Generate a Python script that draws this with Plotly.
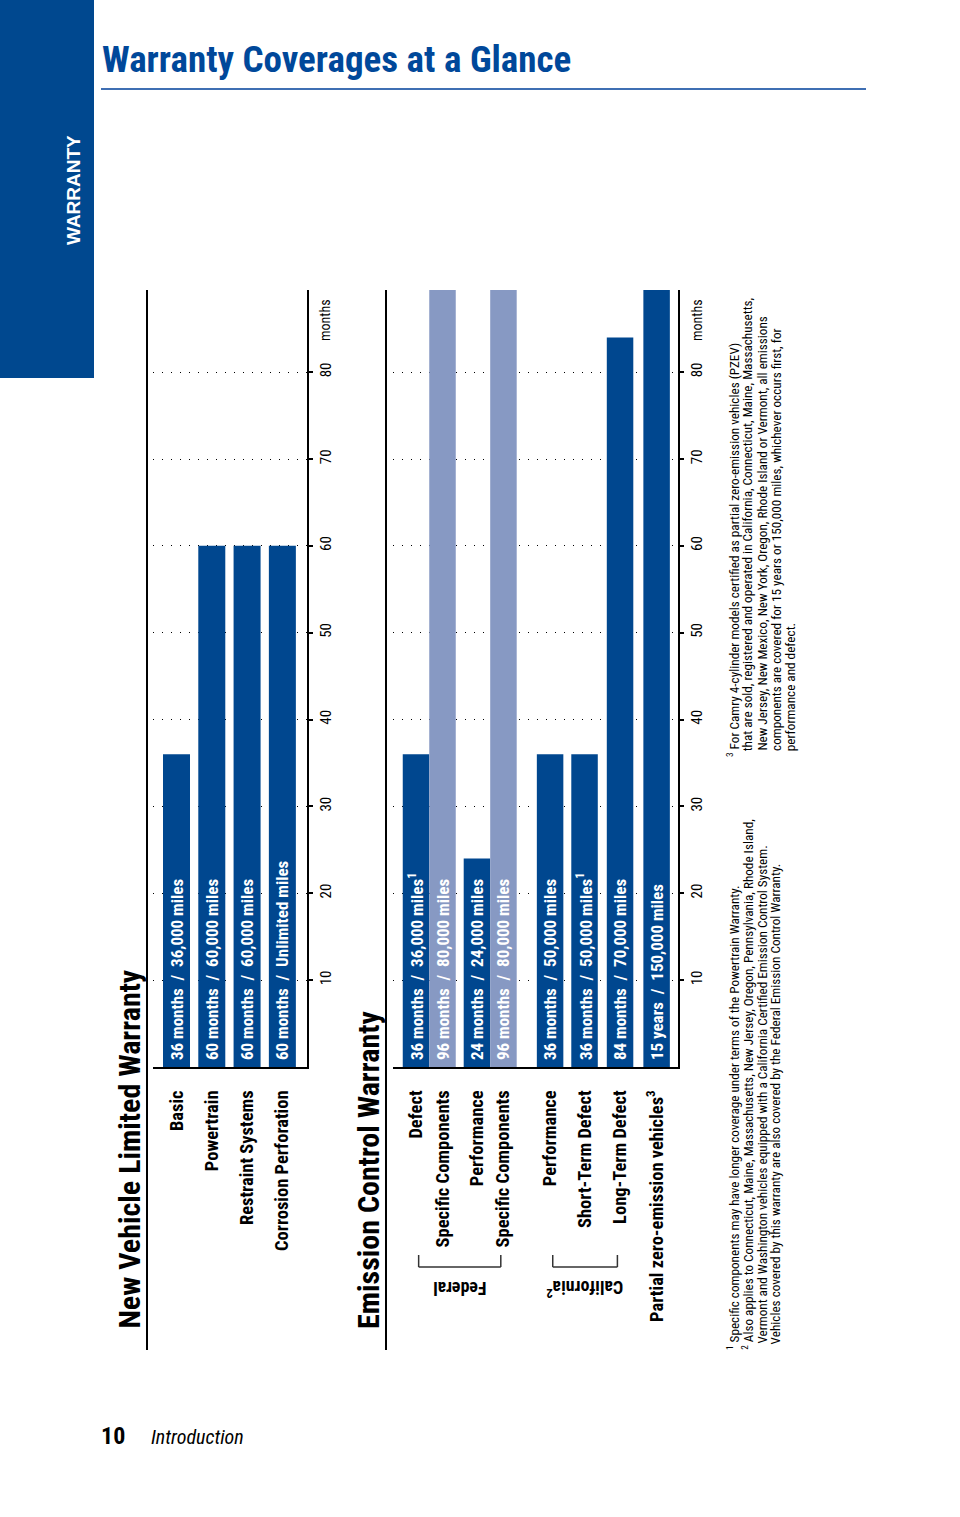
import plotly.graph_objects as go

W, H = 960, 1517

# ---------------- data ----------------
nv_categories = ["Basic", "Powertrain", "Restraint Systems", "Corrosion Perforation"]
nv_months = [36, 60, 60, 60]
nv_labels = ["36 months / 36,000 miles", "60 months / 60,000 miles",
             "60 months / 60,000 miles", "60 months / Unlimited miles"]

ec_categories = ["Defect", "Specific Components", "Performance", "Specific Components",
                 "Performance", "Short-Term Defect", "Long-Term Defect",
                 "Partial zero-emission vehicles<sup>3</sup>"]
ec_months = [36, 96, 24, 96, 36, 36, 84, 180]
ec_labels = ["36 months / 36,000 miles<sup>1</sup>", "96 months / 80,000 miles",
             "24 months / 24,000 miles", "96 months / 80,000 miles",
             "36 months / 50,000 miles", "36 months / 50,000 miles<sup>1</sup>",
             "84 months / 70,000 miles", "15 years / 150,000 miles"]
ec_kind = ["main", "components", "main", "components", "main", "main", "main", "main"]
ec_section = ["Federal", "Federal", "Federal", "Federal",
              "California<sup>2</sup>", "California<sup>2</sup>", "California<sup>2</sup>", "PZEV"]

month_ticks = [10, 20, 30, 40, 50, 60, 70, 80]
month_ticktext = ["10", "20", "30", "40", "50", "60", "70", "80"]

footnotes_a = [
    "<sup>1</sup> Specific components may have longer coverage under terms of the Powertrain Warranty.",
    "<sup>2</sup> Also applies to Connecticut, Maine, Massachusetts, New Jersey, Oregon, Pennsylvania, Rhode Island,",
    "Vermont and Washington vehicles equipped with a California Certified Emission Control System.",
    "Vehicles covered by this warranty are also covered by the Federal Emission Control Warranty.",
]
footnotes_b = [
    "<sup>3</sup> For Camry 4-cylinder models certified as partial zero-emission vehicles (PZEV)",
    "that are sold, registered and operated in California, Connecticut, Maine, Massachusetts,",
    "New Jersey, New Mexico, New York, Oregon, Rhode Island or Vermont, all emissions",
    "components are covered for 15 years or 150,000 miles, whichever occurs first, for",
    "performance and defect.",
]

# ---------------- styling / layout constants ----------------
DARK = "#00478f"
LIGHT = "#8799c3"
NARROW = "Roboto Condensed, Open Sans, sans-serif"
SANS = "Liberation Sans, Arial, sans-serif"
colors = {"main": DARK, "components": LIGHT}

# gap (in bar widths) placed before each emission bar
ec_gap_before = [0, 0, 0.3, 0, 0.76, 0.3, 0.34, 0.38]
ec_pos = []
p = 0.0
for i, g in enumerate(ec_gap_before):
    p = 0.0 if i == 0 else p + 1 + g
    ec_pos.append(p)


def px(x):
    return x / W


def py(y):
    return 1 - y / H


def nb(s):
    return s.replace(" / ", "\u00a0\u00a0/\u00a0\u00a0")


fig = go.Figure()

BARFONT = dict(family=NARROW, size=17, color="white", weight="bold")

fig.add_trace(go.Bar(
    x=nv_categories, y=nv_months, text=["\u00a0" + nb(t) for t in nv_labels],
    marker=dict(color=DARK, line=dict(width=0)),
    textposition="inside", insidetextanchor="start", textangle=-90,
    constraintext="none", cliponaxis=True, textfont=BARFONT,
    xaxis="x", yaxis="y", showlegend=False, hoverinfo="skip"))

fig.add_trace(go.Bar(
    x=ec_pos, y=ec_months, width=[1.0] * len(ec_pos),
    text=["\u00a0" + nb(t) for t in ec_labels],
    marker=dict(color=[colors[k] for k in ec_kind], line=dict(width=0)),
    textposition="inside", insidetextanchor="start", textangle=-90,
    constraintext="none", cliponaxis=True, textfont=BARFONT,
    xaxis="x2", yaxis="y2", showlegend=False, hoverinfo="skip"))

ytop, ybase = 290, 1067
yrange = [0, (ybase - ytop) / ((980 - 372) / 70)]

common_y = dict(
    domain=[py(ybase), py(ytop)], range=yrange, side="right",
    tickvals=month_ticks, ticktext=month_ticktext, tickangle=-90,
    showline=True, linecolor="black", linewidth=2,
    ticks="outside", ticklen=4, tickwidth=2, tickcolor="black",
    showgrid=True, gridcolor="black", gridwidth=1.2, griddash="1px,8px",
    zeroline=False, tickfont=dict(family=NARROW, size=15, color="black"),
    fixedrange=True)

common_x = dict(
    showline=True, linecolor="black", linewidth=2, ticks="", showgrid=False,
    zeroline=False, tickangle=-90, ticklabelstandoff=14,
    tickfont=dict(family=NARROW, size=18.5, color="black", weight="bold"),
    fixedrange=True)

fig.update_layout(
    width=W, height=H, margin=dict(l=0, r=0, t=0, b=0),
    paper_bgcolor="white", plot_bgcolor="white",
    bargap=0.235,
    xaxis=dict(domain=[px(153), px(307)], anchor="y", type="category",
               range=[-0.666, 3.698], **common_x),
    yaxis=dict(anchor="x", **common_y),
    xaxis2=dict(domain=[px(393), px(678)], anchor="y2", type="linear",
                range=[-0.868, 9.887], tickvals=ec_pos, ticktext=ec_categories,
                **common_x),
    yaxis2=dict(anchor="x2", **common_y),
)

shapes = []
# sidebar
shapes.append(dict(type="rect", xref="paper", yref="paper", x0=0, x1=px(94),
                   y0=py(378), y1=1, fillcolor="#00488f", line=dict(width=0), layer="below"))
# title rule
shapes.append(dict(type="line", xref="paper", yref="paper", x0=px(101), x1=px(866),
                   y0=py(89), y1=py(89), line=dict(color="#3f6fb3", width=2)))
# section vertical rules
for xx in (147, 386):
    shapes.append(dict(type="line", xref="paper", yref="paper", x0=px(xx), x1=px(xx),
                       y0=py(1350), y1=py(290), line=dict(color="black", width=2)))
# brackets for Federal / California
annotations = []
for sec in ["Federal", "California<sup>2</sup>"]:
    idx = [i for i, s in enumerate(ec_section) if s == sec]
    x0, x1 = ec_pos[idx[0]] + 0.1, ec_pos[idx[-1]] - 0.1
    path_pts = [(x0, 1255), (x0, 1267), (x1, 1267), (x1, 1255)]
    for (a, b), (c, d) in zip(path_pts[:-1], path_pts[1:]):
        shapes.append(dict(type="line", xref="x2", yref="paper", x0=a, x1=c,
                           y0=py(b), y1=py(d), line=dict(color="#333333", width=1.5)))
    annotations.append(dict(text=sec, xref="x2", yref="paper", x=(x0 + x1) / 2, y=py(1289),
                            showarrow=False, textangle=180, xanchor="center", yanchor="middle",
                            font=dict(family=NARROW, size=18, color="black", weight="bold")))

fig.update_layout(shapes=shapes)


def ann(text, x, y, size, family=NARROW, color="black", weight="normal", angle=0,
        xanchor="center", yanchor="middle", style="normal"):
    annotations.append(dict(text=text, xref="paper", yref="paper", x=px(x), y=py(y),
                            showarrow=False, textangle=angle, xanchor=xanchor, yanchor=yanchor,
                            font=dict(family=family, size=size, color=color, weight=weight,
                                      style=style)))


ann("Warranty Coverages at a Glance", 100, 60, 37, color="#00489a", weight="bold",
    xanchor="left")
ann("WARRANTY", 73, 190, 19, family=SANS, color="white", weight="bold", angle=-90)
ann("New Vehicle Limited Warranty", 129, 1331, 30, weight="bold", angle=-90, yanchor="bottom")
ann("Emission Control Warranty", 368, 1331, 30, weight="bold", angle=-90, yanchor="bottom")
ann("months", 325, 320, 14, angle=-90)
ann("months", 697, 320, 14, angle=-90)
ann("10", 99, 1436, 24, family=NARROW, weight="bold", xanchor="left")
ann("Introduction", 149, 1437, 20, family=NARROW, style="italic", xanchor="left")

fx = [733, 747.3, 761.6, 775.9, 790.2]
for i, t in enumerate(footnotes_a):
    ann(t, fx[i], 1352 if i < 2 else 1346, 13.2, angle=-90, yanchor="bottom")
for i, t in enumerate(footnotes_b):
    ann(t, fx[i], 759 if i < 1 else 753, 13.2, angle=-90, yanchor="bottom")

fig.update_layout(annotations=annotations)

fig.write_html("out.html", config={"displayModeBar": False},
               post_script="document.body.style.margin='0';")
